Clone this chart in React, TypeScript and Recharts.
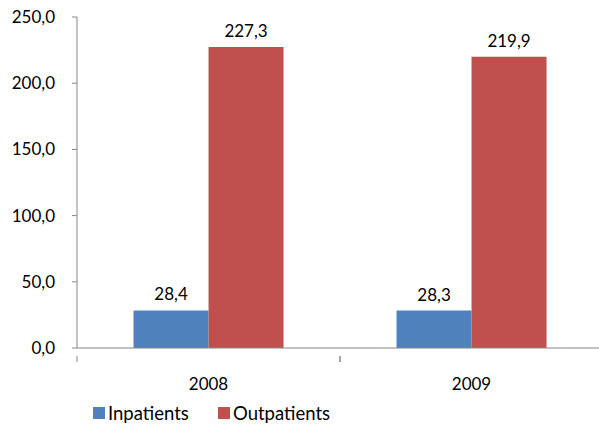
import { Bar, BarChart, LabelList, Legend, XAxis, YAxis } from "recharts";

const years = ["2008", "2009"];
const inpatients = [28.4, 28.3];
const outpatients = [227.3, 219.9];
const yTicks = [0, 50, 100, 150, 200, 250];

const BLUE = "#4F81BD";
const RED = "#C0504D";
const AXIS = "#868686";
const FONT = "Lato, 'Open Sans', sans-serif";

const data = years.map((year, i) => ({
  year,
  inpatients: inpatients[i],
  outpatients: outpatients[i],
}));

const fmt = (v: number) => v.toFixed(1).replace(".", ",");

// category label in the middle, tick marks at the band edges
function YearTick(props: any) {
  const { x, y, payload } = props;
  const half = 131.5;
  return (
    <g>
      <line x1={x - half} y1={y} x2={x - half} y2={y + 6} stroke={AXIS} />
      <line x1={x + half} y1={y} x2={x + half} y2={y + 6} stroke={AXIS} />
      <text
        x={x}
        y={y + 34}
        textAnchor="middle"
        fontSize={17}
        fontFamily={FONT}
        fill="#000"
      >
        {payload.value}
      </text>
    </g>
  );
}

function LegendBox() {
  const items = [
    { name: "Inpatients", color: BLUE },
    { name: "Outpatients", color: RED },
  ];
  return (
    <div
      style={{
        display: "flex",
        height: 30,
        boxSizing: "border-box",
        paddingLeft: 93,
        paddingTop: 6,
        fontFamily: FONT,
        fontSize: 18.5,
        alignItems: "center",
      }}
    >
      {items.map((it) => (
        <div
          key={it.name}
          style={{ display: "flex", alignItems: "center", width: 125 }}
        >
          <span
            style={{
              width: 12,
              height: 12,
              background: it.color,
              display: "inline-block",
              marginRight: 3,
            }}
          />
          <span>{it.name}</span>
        </div>
      ))}
    </div>
  );
}

export default function App() {
  return (
    <div style={{ position: "absolute", left: 0, top: 0, background: "#fff" }}>
      <BarChart
        width={599}
        height={425}
        data={data}
        margin={{ top: 17, right: -4, left: 0, bottom: 7 }}
        barCategoryGap="21.5%"
        barGap={0}
      >
        <XAxis
          dataKey="year"
          stroke={AXIS}
          tickLine={false}
          height={40}
          tick={<YearTick />}
          interval={0}
        />
        <YAxis
          domain={[0, 250]}
          ticks={yTicks}
          tickFormatter={fmt}
          width={77}
          stroke={AXIS}
          tickSize={5}
          tickMargin={17}
          tick={{ fontSize: 17, fontFamily: FONT, fill: "#000" }}
        />
        <Legend
          verticalAlign="bottom"
          align="left"
          height={30}
          wrapperStyle={{ bottom: 0 }}
          content={<LegendBox />}
        />
        <Bar dataKey="inpatients" name="Inpatients" fill={BLUE} isAnimationActive={false}>
          <LabelList
            dataKey="inpatients"
            position="top"
            offset={10}
            formatter={(v: any) => fmt(Number(v))}
            style={{ fontSize: 17, fontFamily: FONT, fill: "#000" }}
          />
        </Bar>
        <Bar dataKey="outpatients" name="Outpatients" fill={RED} isAnimationActive={false}>
          <LabelList
            dataKey="outpatients"
            position="top"
            offset={10}
            formatter={(v: any) => fmt(Number(v))}
            style={{ fontSize: 17, fontFamily: FONT, fill: "#000" }}
          />
        </Bar>
      </BarChart>
    </div>
  );
}
